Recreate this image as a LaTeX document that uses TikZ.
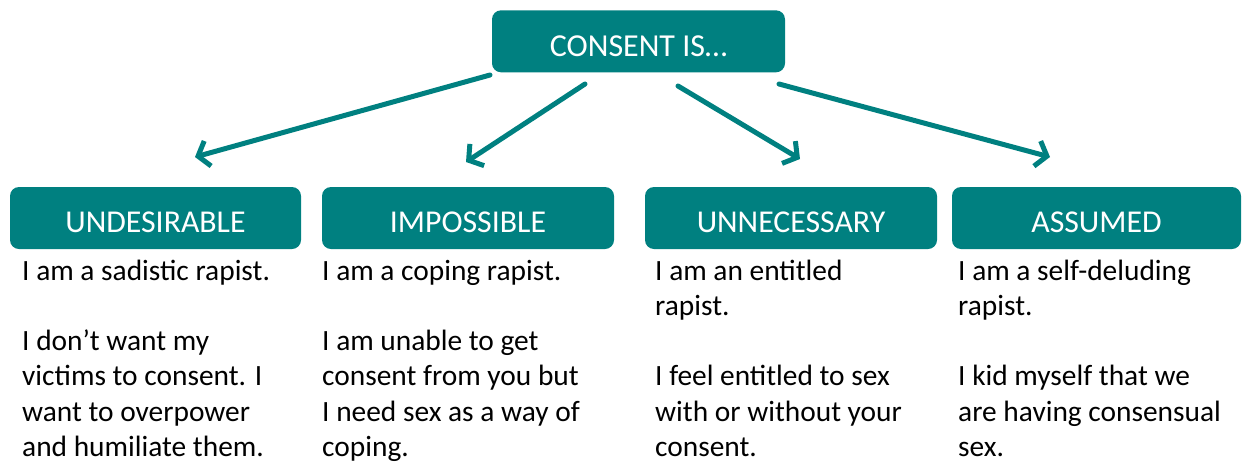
\documentclass[tikz,border=0pt]{standalone}
\usepackage{fontspec}
\setmainfont{Carlito}
\usetikzlibrary{arrows.meta}
\definecolor{boxteal}{RGB}{0,128,128}

\begin{document}
\begin{tikzpicture}[x=1pt,y=-1pt,
  >={Straight Barb[length=10pt,width=26pt]},
  head node/.style={fill=boxteal,text=white,rounded corners=9pt,
  inner sep=0pt,minimum height=62pt,text height=29.4pt,text depth=0pt,
  font=\fontsize{31.8}{38}\selectfont},
  text node/.style={anchor=base west,align=left,inner sep=0pt,
  font=\fontsize{29.4}{35.3}\selectfont},
  arrow/.style={->,draw=boxteal,line width=5pt,line cap=round}]
  \useasboundingbox (0,0) rectangle (1242,464);

  \node[head node,minimum width=293pt,text height=30.8pt,
    font=\fontsize{32}{38}\selectfont] (C) at (638.5,41.3) {CONSENT IS…};
  \node[head node,minimum width=291pt] (U) at (155.5,218) {UNDESIRABLE};
  \node[head node,minimum width=292pt] (I) at (468,218) {IMPOSSIBLE};
  \node[head node,minimum width=292pt] (N) at (791,218) {UNNECESSARY};
  \node[head node,minimum width=289pt] (A) at (1096.5,218) {ASSUMED};

  % texte sous chaque case (ancre = ligne de base de la derniere ligne)
  \node[text node] (Ut) at (22,456.5) {I am a sadistic rapist.\\[35.3pt]I don’t want my\\victims to consent. I\\want to overpower\\and humiliate them.};
  \node[text node] (It) at (322,456.5) {I am a coping rapist.\\[35.3pt]I am unable to get\\consent from you but\\I need sex as a way of\\coping.};
  \node[text node] (Nt) at (655,456.5) {I am an entitled\\rapist.\\[35.3pt]I feel entitled to sex\\with or without your\\consent.};
  \node[text node] (At) at (958,456.5) {I am a self-deluding\\rapist.\\[35.3pt]I kid myself that we\\are having consensual\\sex.};

  % fleches
  \coordinate (u0) at (490,75);   \coordinate (u1) at (195,157);
  \coordinate (i0) at (585,84);   \coordinate (i1) at (466,162);
  \coordinate (n0) at (678,86);   \coordinate (n1) at (800,159);
  \coordinate (a0) at (779,84);   \coordinate (a1) at (1050,157);

  \path[every edge/.style={arrow}]
    (u0) edge (u1)
    (i0) edge (i1)
    (n0) edge (n1)
    (a0) edge (a1);
\end{tikzpicture}
\end{document}
